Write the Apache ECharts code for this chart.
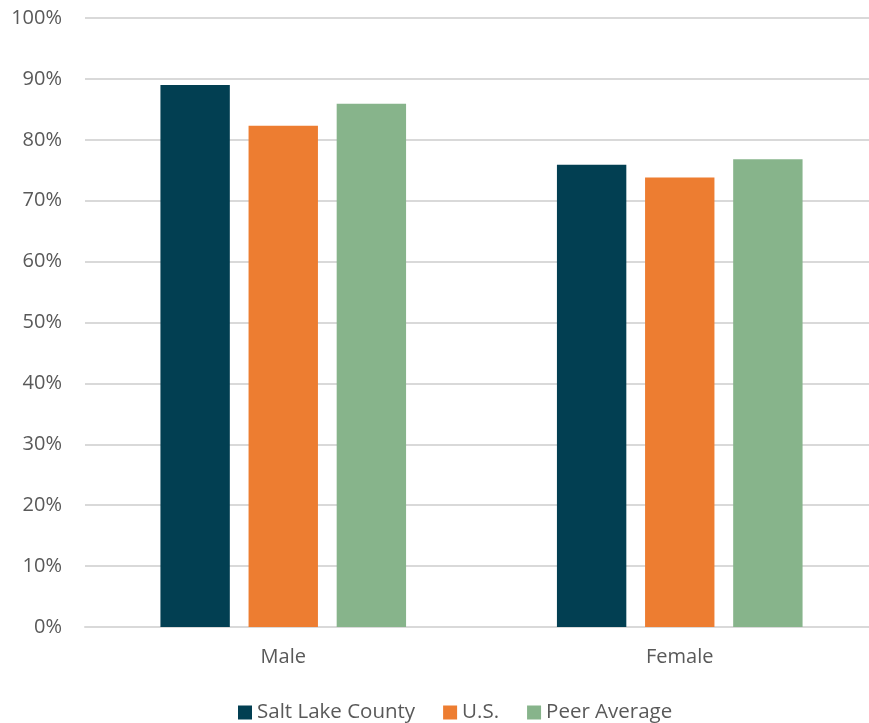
<!DOCTYPE html>
<html>
<head>
<meta charset="utf-8">
<script src="https://cdn.jsdelivr.net/npm/echarts@6/dist/echarts.min.js"></script>
<style>
  html, body { margin: 0; padding: 0; background: #fff; }
  #chart { width: 869px; height: 723px; }
</style>
</head>
<body>
<div id="chart"></div>
<script>
// Share of population by sex, by geography (percent)
const categories = ['Male', 'Female'];
const saltLakeCounty = [89.0, 75.9];
const unitedStates = [82.3, 73.8];
const peerAverage = [85.9, 76.8];
const seriesNames = ['Salt Lake County', 'U.S.', 'Peer Average'];
const seriesColors = ['#023F52', '#ED7D31', '#87B48B'];

const font = '"Open Sans", "Noto Sans", sans-serif';
const textColor = '#595959';

const chart = echarts.init(document.getElementById('chart'));
const values = [saltLakeCounty, unitedStates, peerAverage];

chart.setOption({
  animation: false,
  // plot area runs past the right edge of the canvas
  grid: {
    left: 85, width: 793, top: 18, bottom: 96,
    containLabel: false,
    outerBoundsMode: 'none'
  },
  legend: {
    top: 697,
    left: 233,
    itemWidth: 14,
    itemHeight: 14,
    itemGap: 28,
    icon: 'rect',
    textStyle: { fontFamily: font, fontSize: 20.5, color: textColor },
    data: seriesNames
  },
  xAxis: {
    type: 'category',
    data: categories,
    axisTick: { show: false },
    axisLine: { lineStyle: { color: '#D9D9D9', width: 2 } },
    axisLabel: { fontFamily: font, fontSize: 20, color: textColor, margin: 20 }
  },
  yAxis: {
    type: 'value',
    min: 0,
    max: 100,
    interval: 10,
    axisLine: { show: false },
    axisTick: { show: false },
    splitLine: { lineStyle: { color: '#D9D9D9', width: 2 } },
    axisLabel: { fontFamily: font, fontSize: 20, color: textColor, margin: 23, formatter: '{value}%' }
  },
  series: seriesNames.map((name, i) => ({
    name,
    type: 'bar',
    data: values[i],
    barWidth: '17.5%',
    barGap: '27%',
    itemStyle: { color: seriesColors[i] }
  }))
});
</script>
</body>
</html>
